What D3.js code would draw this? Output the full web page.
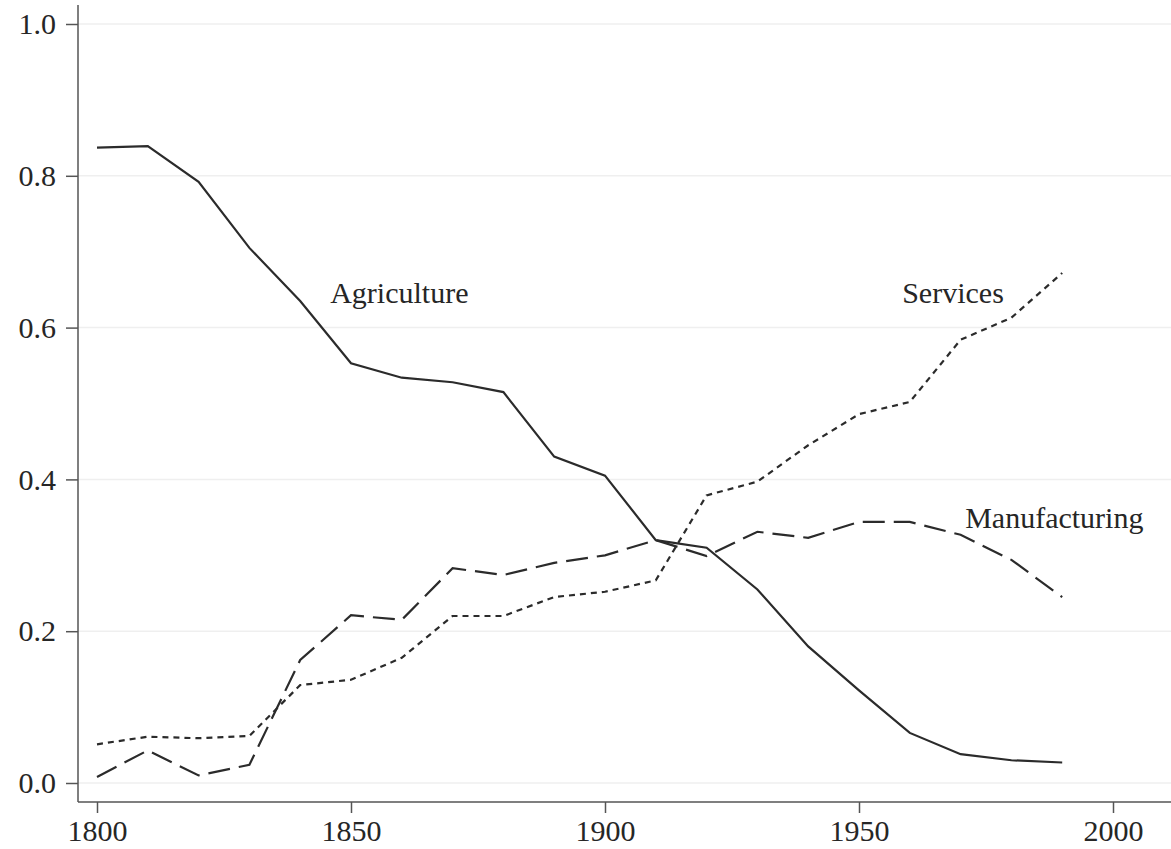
<!DOCTYPE html>
<html>
<head>
<meta charset="utf-8">
<script src="https://cdn.jsdelivr.net/npm/d3@7"></script>
<style>
  body { margin: 0; background: #fff; }
  text { font-family: "Liberation Serif", "Times New Roman", serif; fill: #262626; }
</style>
</head>
<body>
<div id="plot"></div>
<script>
// data
var years = [1800, 1810, 1820, 1830, 1840, 1850, 1860, 1870, 1880, 1890,
             1900, 1910, 1920, 1930, 1940, 1950, 1960, 1970, 1980, 1990];
var agriculture = [0.837, 0.839, 0.792, 0.705, 0.635, 0.553, 0.534, 0.528, 0.515, 0.430,
                   0.405, 0.320, 0.310, 0.255, 0.180, 0.122, 0.066, 0.038, 0.030, 0.027];
var manufacturing = [0.008, 0.043, 0.010, 0.024, 0.162, 0.221, 0.215, 0.283, 0.274, 0.290,
                     0.300, 0.320, 0.299, 0.331, 0.323, 0.344, 0.344, 0.327, 0.294, 0.245];
var services = [0.051, 0.061, 0.059, 0.062, 0.129, 0.136, 0.165, 0.220, 0.220, 0.245,
                0.252, 0.267, 0.379, 0.397, 0.445, 0.486, 0.502, 0.584, 0.613, 0.672];
var xTicks = [1800, 1850, 1900, 1950, 2000];
var yTicks = [0, 0.2, 0.4, 0.6, 0.8, 1.0];

var svgWidth = 1171;
var svgHeight = 849;

var svg = d3.select("#plot")
    .append("svg")
    .attr("width", svgWidth)
    .attr("height", svgHeight);

// scales
var xScale = d3.scaleLinear().domain([1800, 2000]).range([97, 1113]);
var yScale = d3.scaleLinear().domain([0, 1]).range([783, 24]);

var axisX = 78, axisY = 802;

// gridlines
svg.selectAll("line.grid")
    .data(yTicks)
    .enter()
    .append("line")
    .attr("class", "grid")
    .attr("x1", axisX)
    .attr("x2", svgWidth)
    .attr("y1", d => yScale(d))
    .attr("y2", d => yScale(d))
    .attr("stroke", "#efefef")
    .attr("stroke-width", 1.5);

// axes
var yAxis = d3.axisLeft(yScale)
    .tickValues(yTicks)
    .tickSize(12)
    .tickPadding(10)
    .tickFormat(d3.format(".1f"));

var yG = svg.append("g")
    .attr("transform", `translate(${axisX},0)`)
    .call(yAxis);

var xAxis = d3.axisBottom(xScale)
    .tickValues(xTicks)
    .tickSize(11)
    .tickPadding(7)
    .tickFormat(d3.format("d"));

var xG = svg.append("g")
    .attr("transform", `translate(0,${axisY})`)
    .call(xAxis);

[yG, xG].forEach(g => {
    g.select(".domain").remove();
    g.selectAll(".tick line").attr("stroke", "#555").attr("stroke-width", 1.5);
    g.selectAll(".tick text")
        .style("font-family", "'Liberation Serif', serif")
        .style("font-size", "30px")
        .attr("fill", "#262626");
});

svg.append("line")
    .attr("x1", axisX).attr("x2", axisX)
    .attr("y1", 5).attr("y2", axisY)
    .attr("stroke", "#555").attr("stroke-width", 1.5);
svg.append("line")
    .attr("x1", axisX).attr("x2", svgWidth)
    .attr("y1", axisY).attr("y2", axisY)
    .attr("stroke", "#555").attr("stroke-width", 1.5);

// lines
var line = d3.line()
    .x((d, i) => xScale(years[i]))
    .y(d => yScale(d));

var series = [
    { name: "Agriculture", values: agriculture, dash: null },
    { name: "Manufacturing", values: manufacturing, dash: "22,9" },
    { name: "Services", values: services, dash: "6,5" }
];

series.forEach(s => {
    svg.append("path")
        .attr("d", line(s.values))
        .attr("fill", "none")
        .attr("stroke", "#2b2b2b")
        .attr("stroke-width", 2.2)
        .attr("stroke-dasharray", s.dash);
});

// labels
var labels = [
    { text: "Agriculture", year: 1845.9, value: 0.632 },
    { text: "Services", year: 1958.5, value: 0.632 },
    { text: "Manufacturing", year: 1970.9, value: 0.336 }
];

svg.selectAll("text.label")
    .data(labels)
    .enter()
    .append("text")
    .attr("class", "label")
    .attr("x", d => xScale(d.year))
    .attr("y", d => yScale(d.value))
    .style("font-size", "30px")
    .text(d => d.text);
</script>
</body>
</html>
